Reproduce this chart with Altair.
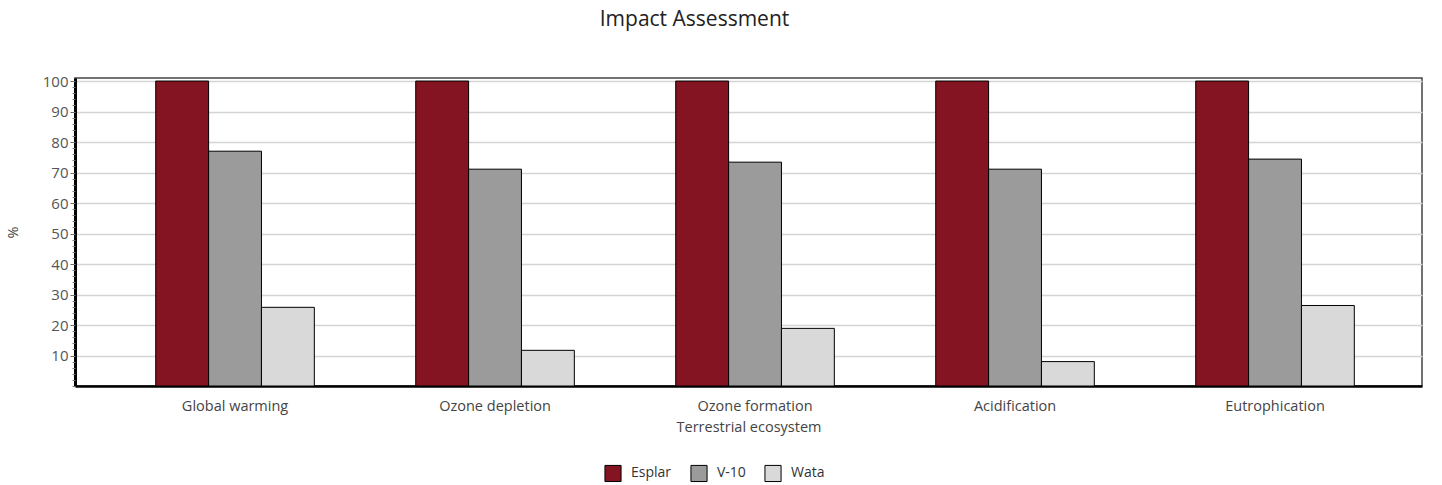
import altair as alt
import pandas as pd

categories = ["Global warming", "Ozone depletion", "Ozone formation", "Acidification", "Eutrophication"]
series = ["Esplar", "V-10", "Wata"]
esplar = [100, 100, 100, 100, 100]
v10 = [77.0, 71.1, 73.4, 71.1, 74.4]
wata = [25.8, 11.7, 18.9, 8.0, 26.4]
colors = ["#841421", "#9b9b9b", "#d9d9d9"]
major_ticks = [10, 20, 30, 40, 50, 60, 70, 80, 90, 100]
minor_ticks = list(range(0, 101, 2))

rows = []
for name, vals in zip(series, [esplar, v10, wata]):
    for c, v in zip(categories, vals):
        rows.append({"category": c, "series": name, "value": v})
df = pd.DataFrame(rows)

FONT = "Open Sans"

yscale = alt.Scale(domain=[0, 101], nice=False, zero=True)
xenc = alt.X(
    "category:N", sort=categories,
    scale=alt.Scale(paddingInner=0.39, paddingOuter=0.2854, align=0.544),
    axis=alt.Axis(title="Terrestrial ecosystem", labelAngle=0, ticks=False,
                  domainColor="#000", domainWidth=2.5, labelPadding=13,
                  labelFontSize=14.5, labelColor="#444", labelFont=FONT,
                  titleFont=FONT, titleFontSize=14.5, titleColor="#444",
                  titleFontWeight="normal", titlePadding=8),
)
xoff = alt.XOffset("series:N", sort=series, scale=alt.Scale(paddingInner=0, paddingOuter=0))

bars = alt.Chart(df).mark_bar(stroke="#000", strokeWidth=1).encode(
    x=xenc,
    xOffset=xoff,
    y=alt.Y("value:Q", scale=yscale,
            axis=alt.Axis(values=major_ticks, orient="left", title="%", tickSize=5,
                          tickColor="#666", domainColor="#000", domainWidth=3,
                          gridColor="#d4d4d4", gridWidth=1.5,
                          labelFontSize=15, labelColor="#555", labelFont=FONT,
                          labelPadding=2,
                          titleFont=FONT, titleFontSize=14.5, titleColor="#444",
                          titleFontWeight="normal", titlePadding=22)),
    color=alt.Color("series:N", sort=series,
                    scale=alt.Scale(domain=series, range=colors),
                    legend=alt.Legend(title=None, orient="none", direction="horizontal",
                                      legendX=529, legendY=386, symbolType="square",
                                      symbolSize=260, symbolStrokeColor="#000",
                                      symbolStrokeWidth=1, labelFontSize=14,
                                      labelFont=FONT, labelColor="#333",
                                      labelOffset=9, columnPadding=16)),
)

minor = alt.Chart(df).mark_bar(opacity=0).encode(
    x=xenc,
    xOffset=xoff,
    y=alt.Y("value:Q", scale=yscale,
            axis=alt.Axis(values=minor_ticks, orient="left", labels=False, title=None,
                          tickSize=3, tickColor="#777", grid=False, domain=False)),
)

chart = alt.layer(bars, minor).resolve_axis(y="independent").properties(
    width=1347, height=308,
    padding={"left": 75, "top": 78, "right": 20, "bottom": 99},
    autosize=alt.AutoSizeParams(type="none"),
    title=alt.TitleParams("Impact Assessment", fontSize=21, font=FONT, color="#222",
                          fontWeight="normal", anchor="middle", dx=-54, offset=44),
).configure_view(stroke="#444", strokeWidth=1.5)

chart.save("out.html", embed_options={"renderer": "svg", "actions": False})
